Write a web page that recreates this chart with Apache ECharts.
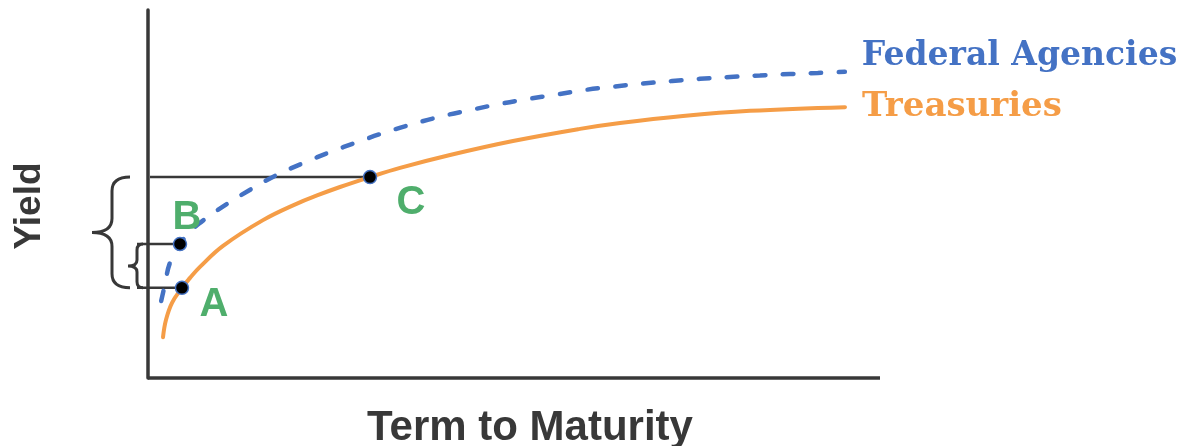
<!DOCTYPE html>
<html>
<head>
<meta charset="utf-8">
<script src="https://cdn.jsdelivr.net/npm/echarts@6/dist/echarts.min.js"></script>
<style>
  html, body { margin: 0; padding: 0; background: #ffffff; }
  #chart { width: 1195px; height: 446px; }
</style>
</head>
<body>
<div id="chart"></div>
<script>
// Yield curves: [term, yield] on a 0–100 schematic scale
const seriesNames = ['Federal Agencies', 'Treasuries'];

const agencyCurve = [
  [1.8, 20.9], [2.3, 25.3], [3.0, 31.3], [4.4, 36.4], [5.7, 39.7], [7.8, 43.2],
  [10.8, 47.3], [13.9, 51.1], [17.6, 55.2], [21.2, 58.4], [24.9, 61.4], [28.6, 64.1],
  [32.5, 66.8], [36.5, 69.2], [40.3, 71.2], [44.0, 72.8], [48.1, 74.5], [51.9, 75.8],
  [55.7, 77.0], [59.8, 78.3], [63.7, 79.2], [67.6, 80.0], [71.6, 80.7], [75.4, 81.3],
  [79.5, 81.8], [83.6, 82.2], [87.7, 82.6], [91.5, 82.9], [95.2, 83.2]
];

const treasuryCurve = [
  [2.05, 11.1], [2.46, 15.8], [3.28, 20.4], [4.64, 24.5], [5.74, 27.2], [7.10, 30.2],
  [10.25, 35.9], [15.71, 42.9], [20.36, 47.4], [23.09, 49.6], [26.23, 51.9], [30.33, 54.6],
  [34.43, 57.1], [41.26, 60.6], [49.86, 64.4], [59.02, 67.7], [64.48, 69.3], [73.09, 71.2],
  [82.24, 72.6], [95.22, 73.6]
];

// Marked points: A and C sit on the Treasury curve, B on the agency curve
const pointNames = ['A', 'B', 'C'];
const pointValues = [[4.64, 24.5], [4.37, 36.4], [30.33, 54.6]];

// Braces spanning two marked points (indices into pointValues)
const braceSpans = [[2, 0], [1, 0]];

const BLUE = '#4472c4';
const ORANGE = '#f59d47';
const GREEN = '#4fae6c';
const INK = '#383838';

const labelOffsets = [[32, 17], [7, -26], [41, 26]];
const guideStart = [-11, -11, 2];        // px from the y axis
const braceShapes = [
  { xr: -18, xm: -36, xl: -56, r: 14 },
  { xr: -5, xm: -11, xl: -20, r: 6 }
];

function bracePath(xr, xm, xl, yt, yb, r) {
  const ym = (yt + yb) / 2;
  return 'M' + xr + ',' + yt +
    ' Q' + xm + ',' + yt + ' ' + xm + ',' + (yt + r) +
    ' L' + xm + ',' + (ym - r) +
    ' Q' + xm + ',' + ym + ' ' + xl + ',' + ym +
    ' Q' + xm + ',' + ym + ' ' + xm + ',' + (ym + r) +
    ' L' + xm + ',' + (yb - r) +
    ' Q' + xm + ',' + yb + ' ' + xr + ',' + yb;
}

const chart = echarts.init(document.getElementById('chart'), null, { renderer: 'canvas' });

chart.setOption({
  animation: false,
  backgroundColor: '#ffffff',
  grid: {
    left: 148, right: 315, top: 10, bottom: 68,
    containLabel: false, outerBoundsMode: 'none'
  },
  xAxis: {
    type: 'value', min: 0, max: 100,
    name: 'Term to Maturity', nameLocation: 'middle', nameGap: 29,
    nameTextStyle: {
      fontFamily: 'Liberation Sans', fontWeight: 'bold', fontSize: 42, color: INK,
      padding: [0, 0, 0, 32]
    },
    axisLine: { lineStyle: { color: INK, width: 3.5, cap: 'butt' } },
    axisTick: { show: false }, axisLabel: { show: false }, splitLine: { show: false }
  },
  yAxis: {
    type: 'value', min: 0, max: 100,
    name: 'Yield', nameLocation: 'middle', nameGap: 100,
    nameTextStyle: {
      fontFamily: 'Liberation Sans', fontWeight: 'bold', fontSize: 37, color: INK,
      padding: [0, 24, 0, 0]
    },
    axisLine: { lineStyle: { color: INK, width: 3.5 } },
    axisTick: { show: false }, axisLabel: { show: false }, splitLine: { show: false }
  },
  series: [
    {
      name: 'guides', type: 'custom', silent: true, clip: false, z: 1,
      data: pointValues,
      renderItem: function (params, api) {
        const p = api.coord([api.value(0), api.value(1)]);
        const x0 = api.coord([0, api.value(1)])[0] + guideStart[params.dataIndex];
        return {
          type: 'line',
          shape: { x1: x0, y1: p[1], x2: p[0], y2: p[1] },
          style: { stroke: INK, lineWidth: 2.5 }
        };
      }
    },
    {
      name: 'braces', type: 'custom', silent: true, clip: false, z: 1,
      data: braceSpans,
      renderItem: function (params, api) {
        const top = pointValues[api.value(0)];
        const bot = pointValues[api.value(1)];
        const ax = api.coord([0, top[1]])[0];
        const yt = api.coord([0, top[1]])[1];
        const yb = api.coord([0, bot[1]])[1];
        const s = braceShapes[params.dataIndex];
        return {
          type: 'path',
          shape: { pathData: bracePath(ax + s.xr, ax + s.xm, ax + s.xl, yt, yb, s.r) },
          style: { fill: 'none', stroke: INK, lineWidth: 3 }
        };
      }
    },
    {
      name: seriesNames[1], type: 'line', data: treasuryCurve, smooth: 0.4,
      showSymbol: false, z: 2,
      lineStyle: { color: ORANGE, width: 4, cap: 'round' },
      endLabel: {
        show: true, formatter: '{a}', offset: [9, 0],
        fontFamily: 'DejaVu Serif', fontWeight: 'bold', fontSize: 34, color: ORANGE
      }
    },
    {
      name: seriesNames[0], type: 'line', data: agencyCurve, smooth: 0.4,
      showSymbol: false, z: 3,
      lineStyle: { color: BLUE, width: 4.5, type: [10.5, 17.5], cap: 'round' },
      endLabel: {
        show: true, formatter: '{a}', offset: [9, -15],
        fontFamily: 'DejaVu Serif', fontWeight: 'bold', fontSize: 33, color: BLUE
      }
    },
    {
      name: 'points', type: 'scatter', z: 5,
      data: pointValues.map(function (v, i) {
        return {
          value: v, name: pointNames[i],
          label: { offset: labelOffsets[i] }
        };
      }),
      symbol: 'circle', symbolSize: 13,
      itemStyle: { color: '#000000', borderColor: BLUE, borderWidth: 1.5, opacity: 1 },
      label: {
        show: true, position: 'inside', formatter: '{b}',
        fontFamily: 'Liberation Sans', fontWeight: 'bold', fontSize: 40, color: GREEN
      }
    }
  ]
});
</script>
</body>
</html>
